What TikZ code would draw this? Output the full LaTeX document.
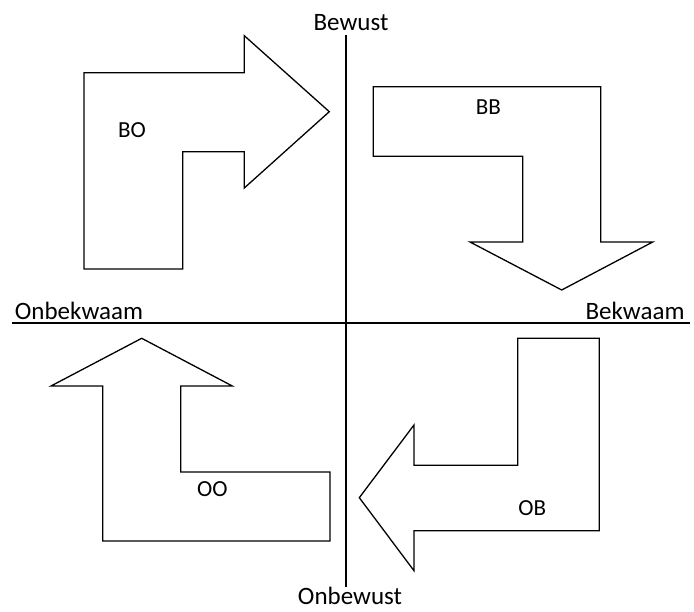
\documentclass[tikz,border=0pt]{standalone}
\usepackage{fontspec}
\setmainfont{Carlito}
\begin{document}
\begin{tikzpicture}[x=1pt,y=-1pt,
  arrowshape/.style={draw=black,line width=1.3pt,line join=miter},
  axis/.style={draw=black,line width=2pt},
  axlabel/.style={inner sep=0pt,font=\fontsize{25}{30}\selectfont},
  boxlabel/.style={inner sep=0pt,font=\fontsize{23}{28}\selectfont}]
\useasboundingbox (0,0) rectangle (694,612);
% axes
\coordinate (vt) at (346,35);
\coordinate (vb) at (346,587);
\coordinate (hl) at (12,323);
\coordinate (hr) at (690,323);
\draw[axis] (vt) -- (vb);
\draw[axis] (hl) -- (hr);
\node[axlabel] (bewust) at (351,23) {Bewust};
\node[axlabel] (onbewust) at (350,596) {Onbewust};
\node[axlabel] (onbekwaam) at (79,311) {Onbekwaam};
\node[axlabel] (bekwaam) at (635,311) {Bekwaam};
% BO
\draw[arrowshape] (84,72.7) -- (244.3,72.7) -- (244.3,35.7) -- (329.3,111.7) -- (244.3,188) -- (244.3,151.7) -- (182.7,151.7) -- (182.7,269) -- (84,269) -- cycle;
\node[boxlabel] (bo) at (132,130) {BO};
% BB
\draw[arrowshape] (373.3,86.7) -- (600.7,86.7) -- (600.7,242) -- (652.7,242) -- (561.7,290) -- (470,242) -- (522.7,242) -- (522.7,156.3) -- (373.3,156.3) -- cycle;
\node[boxlabel] (bb) at (488.3,106.7) {BB};
% OO
\draw[arrowshape] (141.7,338.3) -- (232.3,386) -- (180.7,386) -- (180.7,472) -- (330,472) -- (330,541) -- (102.7,541) -- (102.7,386) -- (51,386) -- cycle;
\node[boxlabel] (oo) at (212.3,489.3) {OO};
% OB
\draw[arrowshape] (517.7,338.3) -- (599.3,338.3) -- (599.3,530.7) -- (414,530.7) -- (414,570.7) -- (359.3,497.7) -- (414,425) -- (414,465.3) -- (517.7,465.3) -- cycle;
\node[boxlabel] (ob) at (532.3,508.3) {OB};
\end{tikzpicture}
\end{document}
